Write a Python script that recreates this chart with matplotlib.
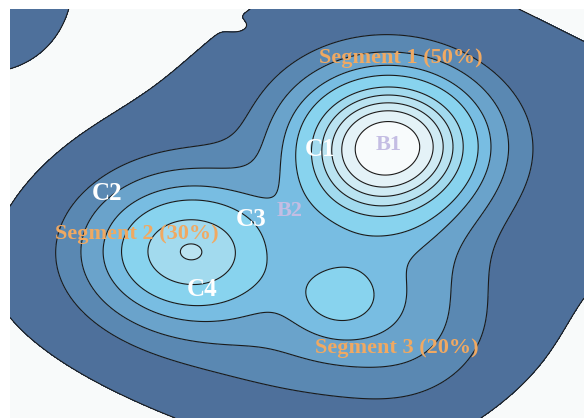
import numpy as np
import matplotlib
matplotlib.use("Agg")
import matplotlib.pyplot as plt

# background plateau: rounded parallelogram (pixel coords of the picture, y down)
base_amp = 0.062
base_n1 = (0.669, 0.743)     # normal of the up-right sides
base_n2 = (-0.423, 0.906)    # normal of the down-right sides
base_c1, base_w1 = 388, 198
base_c2, base_w2 = 37, 224

# gaussian bumps on top of it
comp_names = ["corner", "B1", "B1b", "seg2", "seg3", "shelf", "bottom", "hole"]
comp_x = [-20, 388, 350, 190, 338, 410, 330, 239]
comp_y = [-20, 144, 200, 251, 294, 260, 340, 27]
comp_sx = [62, 58, 40, 64, 35, 48, 100, 9]
comp_sy = [62, 45, 35, 47, 30, 75, 45, 5]
comp_amp = [0.09, 0.92, 0.10, 0.522, 0.23, 0.13, 0.10, -0.008]

levels = [0.03, 0.10, 0.17, 0.26, 0.35, 0.48, 0.58, 0.68, 0.78, 0.90]
fill_colors = ["#f8fafa", "#4e709b", "#5a88b2", "#6aa3cb", "#78bde2", "#88d3ee",
               "#a2daee", "#bae3f1", "#d0ebf4", "#e4f2f7", "#f8fbfc"]

labels = ["Segment 1 (50%)", "Segment 2 (30%)", "Segment 3 (20%)"]
label_pos = [(401, 58), (137, 234), (397, 348)]
points = ["B1", "B2", "C1", "C2", "C3", "C4"]
point_pos = [(389, 145), (290, 211), (320, 150), (107, 193), (251, 219), (202, 290)]
point_col = ["#c4bde3", "#c4bde3", "white", "white", "white", "white"]
point_size = [16, 16, 18, 18, 18, 18]

x = np.linspace(10, 584, 480)
y = np.linspace(9, 418, 340)
X, Y = np.meshgrid(x, y)

s1 = (base_n1[0] * X + base_n1[1] * Y - base_c1) / base_w1
s2 = (base_n2[0] * X + base_n2[1] * Y - base_c2) / base_w2
Z = base_amp * np.exp(-0.5 * (s1 ** 4 + s2 ** 4))
for cx, cy, sx, sy, a in zip(comp_x, comp_y, comp_sx, comp_sy, comp_amp):
    Z += a * np.exp(-0.5 * (((X - cx) / sx) ** 2 + ((Y - cy) / sy) ** 2))

fig = plt.figure(figsize=(5.84, 4.18), dpi=100)
ax = fig.add_axes([10 / 584, 0, 574 / 584, 409 / 418])
ax.contourf(X, Y, Z, levels=[-1] + levels + [5], colors=fill_colors)
ax.contour(X, Y, Z, levels=levels, colors="#1a1a1a", linewidths=0.8)
ax.set_xlim(10, 584)
ax.set_ylim(418, 9)
ax.axis("off")

for s, (px, py) in zip(labels, label_pos):
    ax.text(px, py, s, color="#f0a962", fontsize=16, fontweight="bold",
            family="Liberation Serif", ha="center", va="center")
for s, (px, py), c, fs in zip(points, point_pos, point_col, point_size):
    ax.text(px, py, s, color=c, fontsize=fs, fontweight="bold",
            family="Liberation Serif", ha="center", va="center")

fig.savefig("out.png", dpi=100)
